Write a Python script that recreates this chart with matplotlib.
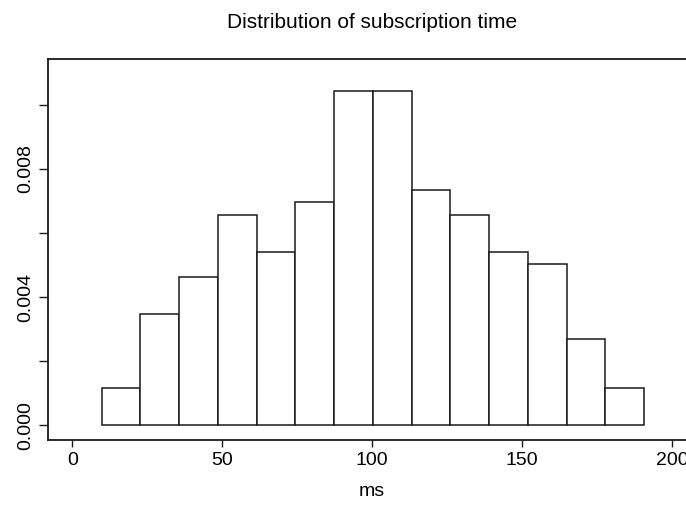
#!/usr/bin/env python3

"""Histogram (density) of subscription time"""

import numpy as np
import matplotlib
matplotlib.use('Agg')
import matplotlib.pyplot as plt

# bin edges (ms) and counts per bin
bin_edges = [9.8, 22.72, 35.64, 48.56, 61.48, 74.4, 87.32, 100.24,
             113.16, 126.08, 139.0, 151.92, 164.84, 177.76, 190.68]
counts = [3, 9, 12, 17, 14, 18, 27, 27, 19, 17, 14, 13, 7, 3]

x_ticks = [0, 50, 100, 150, 200]
y_ticks = [0.000, 0.002, 0.004, 0.006, 0.008, 0.010]
y_ticklabels = ['0.000', '', '0.004', '', '0.008', '']

plt.rcParams['font.family'] = ['Liberation Sans', 'DejaVu Sans']

W, H = 686, 507
fig = plt.figure(figsize=(W / 100, H / 100), dpi=100)
# plot region runs past the right edge, as in the (cropped) reference
left, right, top, bottom = 48, 696.3, 59, 440.3
ax = fig.add_axes([left / W, 1 - bottom / H, (right - left) / W, (bottom - top) / H])

edges = np.array(bin_edges)
centers = (edges[:-1] + edges[1:]) / 2
ax.hist(centers, bins=edges, weights=counts, density=True,
        facecolor='white', edgecolor='#1a1a1a', linewidth=1.1)

ax.set_xlim(-8.1, 208.1)
ax.set_ylim(-0.000468, 0.011433)

ax.set_xticks(x_ticks)
ax.set_yticks(y_ticks)
ax.set_yticklabels(y_ticklabels, rotation=90, va='center')
ax.tick_params(axis='x', length=4.8, width=1.0, pad=3.5, labelsize=14, color='#1a1a1a')
ax.tick_params(axis='y', length=6.2, width=1.0, pad=3.5, labelsize=14, color='#1a1a1a')
for s in ax.spines.values():
    s.set_linewidth(1.3)
    s.set_color('#1a1a1a')

ax.set_xlabel('ms', fontsize=14, labelpad=10)
ax.set_title('Distribution of subscription time', fontsize=15, pad=22)

fig.savefig('out.png', dpi=100)
